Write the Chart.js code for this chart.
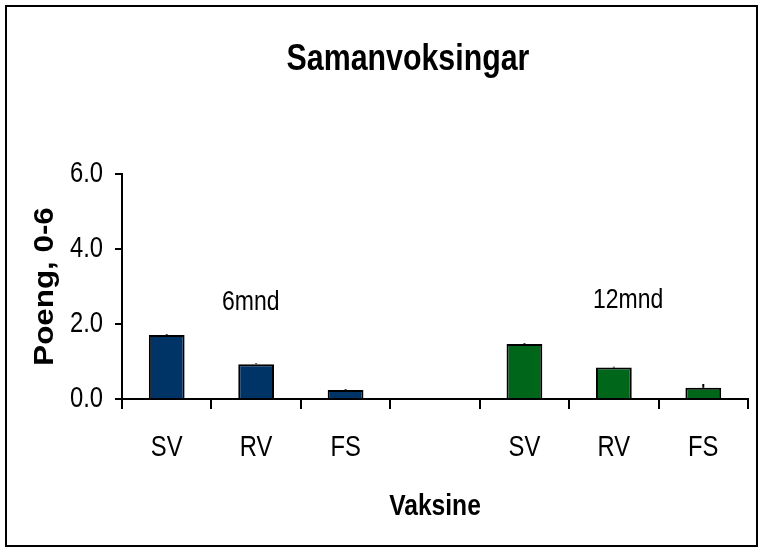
<!DOCTYPE html>
<html>
<head>
<meta charset="utf-8">
<script src="https://cdn.jsdelivr.net/npm/chart.js@4.4.1/dist/chart.umd.min.js"></script>
<style>
  html, body { margin: 0; padding: 0; background: #fff; }
  #wrap { width: 763px; height: 551px; }
</style>
</head>
<body>
<div id="wrap"><canvas id="dataChart" width="763" height="551"></canvas></div>
<script>
// values
const categories = ['SV', 'RV', 'FS', '', 'SV', 'RV', 'FS'];
const values6 = [1.71, 0.93, 0.24];
const values12 = [1.47, 0.84, 0.30];
const errors6 = [0.02, 0.02, 0.02];
const errors12 = [0.02, 0.02, 0.10];
const groupLabels = ['6mnd', '12mnd'];
const yTicks = [0, 2, 4, 6];
const chartTitle = 'Samanvoksingar';

const COLORS = {
    blue: '#003366',
    green: '#00661a',
    black: '#000000'
};

// one slot is left empty between the two groups
const allValues = values6.concat([null], values12);
const allErrors = errors6.concat([null], errors12);
const barColors = values6.map(() => COLORS.blue).concat([COLORS.blue], values12.map(() => COLORS.green));

// no narrow font installed, so Liberation Sans gets squeezed sideways
// (the extra family name is only a marker for the fillText wrapper below)
const NARROW = "'Liberation Sans', narrow-x, sans-serif";
const WIDE = "'Liberation Sans', wide-x, sans-serif";
const textScale = { 'narrow-x': 0.82, 'wide-x': 1.12 };

const ctx = document.getElementById('dataChart').getContext('2d');
const baseFill = ctx.fillText.bind(ctx);
ctx.fillText = function (text, x, y, maxWidth) {
    let sx = 1;
    for (const k in textScale) {
        if (this.font.indexOf(k) >= 0) sx = textScale[k];
    }
    this.save();
    this.translate(x, y);
    this.scale(sx, 1);
    if (maxWidth === undefined) baseFill(text, 0, 0);
    else baseFill(text, 0, 0, maxWidth / sx);
    this.restore();
};

// frame round the whole picture + the title
const framePlugin = {
    id: 'frame',
    afterDraw(chart) {
        const c = chart.ctx;
        c.save();
        c.strokeStyle = COLORS.black;
        c.lineWidth = 2;
        c.strokeRect(6, 6, chart.width - 12, chart.height - 11);
        c.fillStyle = COLORS.black;
        c.font = 'bold 37px ' + NARROW;
        c.textAlign = 'center';
        c.textBaseline = 'middle';
        c.fillText(chartTitle, 408, 60);
        c.restore();
    }
};

// small error lines on top of the bars
const errorPlugin = {
    id: 'errors',
    afterDatasetsDraw(chart) {
        const c = chart.ctx;
        const meta = chart.getDatasetMeta(0);
        const y = chart.scales.y;
        c.save();
        c.strokeStyle = COLORS.black;
        c.lineWidth = 2;
        meta.data.forEach((bar, i) => {
            if (allValues[i] == null || !allErrors[i]) return;
            const top = y.getPixelForValue(allValues[i] + allErrors[i]);
            const base = y.getPixelForValue(allValues[i]);
            c.beginPath();
            c.moveTo(bar.x, base);
            c.lineTo(bar.x, top);
            c.stroke();
        });
        c.restore();
    }
};

// "6mnd" / "12mnd" texts over each group
const groupPlugin = {
    id: 'groups',
    afterDraw(chart) {
        const c = chart.ctx;
        const x = chart.scales.x;
        const y = chart.scales.y;
        const spots = [[0.94, 2.58], [5.16, 2.63]]; // category index, value
        c.save();
        c.fillStyle = COLORS.black;
        c.font = '28px ' + NARROW;
        c.textAlign = 'center';
        c.textBaseline = 'middle';
        groupLabels.forEach((txt, i) => {
            c.fillText(txt, x.getPixelForValue(spots[i][0]), y.getPixelForValue(spots[i][1]));
        });
        c.restore();
    }
};

const config = {
    type: 'bar',
    data: {
        labels: categories,
        datasets: [{
            data: allValues,
            backgroundColor: barColors,
            borderColor: COLORS.black,
            borderWidth: 2,
            barPercentage: 0.4,
            categoryPercentage: 1.0
        }]
    },
    options: {
        responsive: false,
        animation: false,
        layout: { padding: { left: 6, right: 15, top: 174, bottom: 0 } },
        plugins: {
            legend: { display: false },
            tooltip: { enabled: false },
            title: { display: false }
        },
        scales: {
            x: {
                grid: {
                    offset: true,
                    drawOnChartArea: false,
                    color: COLORS.black,
                    tickLength: 10,
                    lineWidth: 2
                },
                border: { color: COLORS.black, width: 2 },
                ticks: {
                    color: COLORS.black,
                    font: { family: NARROW, size: 29 },
                    padding: 22,
                    maxRotation: 0,
                    autoSkip: false
                },
                title: {
                    display: true,
                    text: 'Vaksine',
                    color: COLORS.black,
                    font: { family: NARROW, size: 30, weight: 'bold' },
                    padding: { top: 0, bottom: 26 }
                },
                afterFit(scale) { scale.height = 152; }
            },
            y: {
                min: 0,
                max: 6,
                afterBuildTicks(scale) { scale.ticks = yTicks.map(v => ({ value: v })); },
                grid: {
                    drawOnChartArea: false,
                    color: COLORS.black,
                    tickLength: 7,
                    lineWidth: 2
                },
                border: { color: COLORS.black, width: 2 },
                ticks: {
                    color: COLORS.black,
                    font: { family: NARROW, size: 29 },
                    padding: 12,
                    callback: (v) => Number(v).toFixed(1)
                },
                title: {
                    display: true,
                    text: 'Poeng, 0-6',
                    color: COLORS.black,
                    font: { family: WIDE, size: 28, weight: 'bold' },
                    padding: { top: 22, bottom: 0 }
                },
                afterFit(scale) { scale.width = 116; }
            }
        }
    },
    plugins: [framePlugin, errorPlugin, groupPlugin]
};

const myChart = new Chart(ctx, config);
</script>
</body>
</html>
